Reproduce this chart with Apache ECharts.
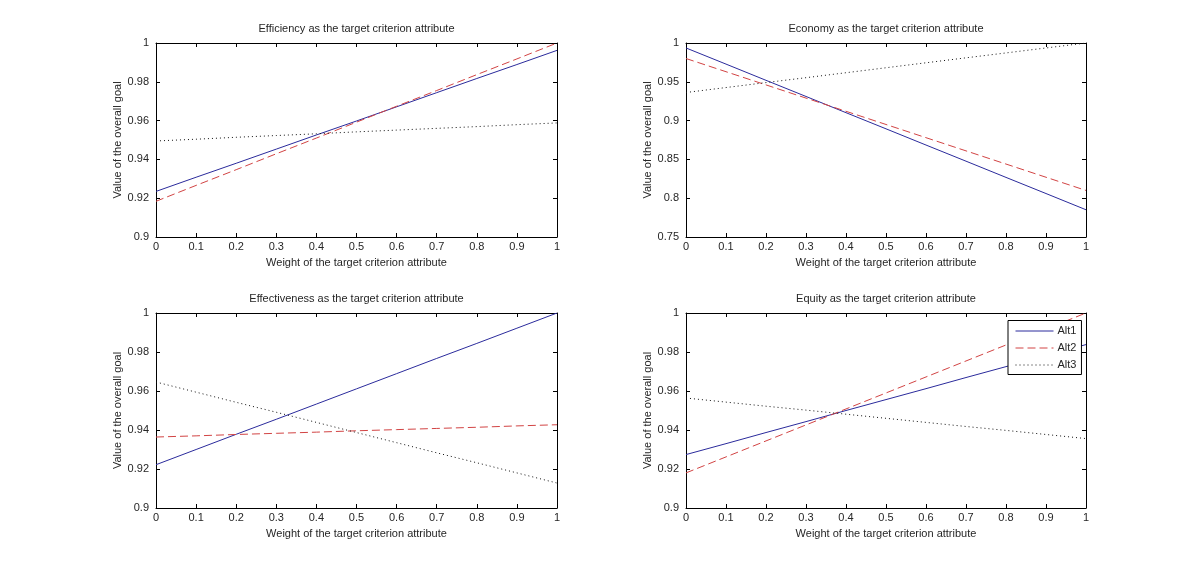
<!DOCTYPE html>
<html><head><meta charset="utf-8">
<script src="https://cdn.jsdelivr.net/npm/echarts@6/dist/echarts.min.js"></script>
<style>html,body{margin:0;padding:0;background:#fff}#c{width:1200px;height:572px}</style>
</head><body><div id="c"></div>
<script>
const weights = [0, 0.1, 0.2, 0.3, 0.4, 0.5, 0.6, 0.7, 0.8, 0.9, 1];
const titles = ['Efficiency as the target criterion attribute','Economy as the target criterion attribute','Effectiveness as the target criterion attribute','Equity as the target criterion attribute'];
const seriesNames = ['Alt1','Alt2','Alt3'];
const xLabel = 'Weight of the target criterion attribute';
const yLabel = 'Value of the overall goal';

const efficiencyAlt1 = [0.9235,0.9308,0.9380,0.9453,0.9526,0.9598,0.9671,0.9744,0.9817,0.9889,0.9962];
const efficiencyAlt2 = [0.9184,0.9266,0.9347,0.9429,0.9510,0.9592,0.9674,0.9755,0.9837,0.9918,1.0];
const efficiencyAlt3 = [0.9495,0.9504,0.9514,0.9523,0.9532,0.9542,0.9551,0.9560,0.9569,0.9579,0.9588];

const economyAlt1 = [0.9936,0.9728,0.9519,0.9311,0.9102,0.8894,0.8685,0.8477,0.8268,0.8060,0.7851];
const economyAlt2 = [0.980,0.963,0.946,0.929,0.912,0.895,0.878,0.861,0.844,0.827,0.810];
const economyAlt3 = [0.9362,0.9426,0.9490,0.9553,0.9617,0.9681,0.9745,0.9809,0.9872,0.9936,1.0];

const effectivenessAlt1 = [0.9222,0.9300,0.9378,0.9455,0.9533,0.9611,0.9689,0.9767,0.9844,0.9922,1.0];
const effectivenessAlt2 = [0.9364,0.9370,0.9377,0.9383,0.9389,0.9396,0.9402,0.9408,0.9414,0.9421,0.9427];
const effectivenessAlt3 = [0.9646,0.9594,0.9542,0.9491,0.9439,0.9387,0.9335,0.9283,0.9232,0.9180,0.9128];

const equityAlt1 = [0.9274,0.9330,0.9387,0.9443,0.9500,0.9556,0.9612,0.9669,0.9725,0.9782,0.9838];
const equityAlt2 = [0.9180,0.9262,0.9344,0.9426,0.9508,0.9590,0.9672,0.9754,0.9836,0.9918,1.0];
const equityAlt3 = [0.9564,0.9543,0.9522,0.9502,0.9481,0.9460,0.9439,0.9418,0.9398,0.9377,0.9356];

const yRanges = [[0.9,1,0.02],[0.75,1,0.05],[0.9,1,0.02],[0.9,1,0.02]];
const panelData = [
  [efficiencyAlt1, efficiencyAlt2, efficiencyAlt3],
  [economyAlt1, economyAlt2, economyAlt3],
  [effectivenessAlt1, effectivenessAlt2, effectivenessAlt3],
  [equityAlt1, equityAlt2, equityAlt3]
];

const grids = [
  {left:156, top:43, width:401, height:194},
  {left:686, top:43, width:400, height:194},
  {left:156, top:313, width:401, height:195},
  {left:686, top:313, width:400, height:195}
];
const txt = '#262626';
const font = 'Liberation Sans, Arial, sans-serif';
const lineStyles = [
  {color:'#2b2b9c', width:1, type:'solid'},
  {color:'#d24444', width:1, type:[8,4]},
  {color:'#111', width:1, type:[1,3]}
];
const fmt = v => String(+v.toFixed(4));

const option = {
  animation:false,
  backgroundColor:'#fff',
  title: titles.map((t,i)=>({
    text:t, left: grids[i].left + grids[i].width/2, top: grids[i].top - 20,
    textAlign:'center', padding:0,
    textStyle:{fontSize:11, fontWeight:'normal', color:txt, fontFamily:font}
  })),
  grid: grids.map(g=>Object.assign({containLabel:false}, g)),
  xAxis: [],
  yAxis: [],
  series: [],
  legend: {
    show:true, orient:'vertical', left:1008, top:320.5,
    data: seriesNames,
    backgroundColor:'#fff', borderColor:'#000', borderWidth:1,
    padding:[5,5,4,7], itemGap:6, itemWidth:38, itemHeight:10,
    itemStyle:{opacity:0}, lineStyle:{width:1},
    textStyle:{fontSize:11, color:txt, fontFamily:font, padding:[0,0,0,-1]},
    selectedMode:false
  }
};

grids.forEach((g,i)=>{
  const axLine = {show:true, onZero:false, lineStyle:{color:'#000', width:1}};
  const tick = {show:true, inside:true, length:4, lineStyle:{color:'#000'}};
  option.xAxis.push({
    type:'value', gridIndex:i, min:0, max:1, interval:0.1, position:'bottom',
    axisLine:axLine, axisTick:tick, splitLine:{show:false},
    axisLabel:{fontSize:11, color:txt, fontFamily:font, margin:4, formatter:fmt},
    name:xLabel, nameLocation:'middle', nameGap:20,
    nameTextStyle:{fontSize:11, color:txt, fontFamily:font}
  });
  option.xAxis.push({
    type:'value', gridIndex:i, min:0, max:1, interval:0.1, position:'top',
    axisLine:axLine, axisTick:tick, splitLine:{show:false}, axisLabel:{show:false}
  });
  const [mn,mx,iv] = yRanges[i];
  option.yAxis.push({
    type:'value', gridIndex:i, min:mn, max:mx, interval:iv, position:'left',
    axisLine:axLine, axisTick:tick, splitLine:{show:false},
    axisLabel:{fontSize:11, color:txt, fontFamily:font, margin:7, formatter:fmt},
    name:yLabel, nameLocation:'middle', nameGap:33,
    nameTextStyle:{fontSize:11, color:txt, fontFamily:font}
  });
  option.yAxis.push({
    type:'value', gridIndex:i, min:mn, max:mx, interval:iv, position:'right',
    axisLine:axLine, axisTick:tick, splitLine:{show:false}, axisLabel:{show:false}
  });
  panelData[i].forEach((vals,k)=>{
    option.series.push({
      type:'line', name:seriesNames[k], xAxisIndex:2*i, yAxisIndex:2*i,
      data: weights.map((w,j)=>[w, vals[j]]),
      showSymbol:false, symbol:'none', lineStyle:lineStyles[k],
      itemStyle:{color:lineStyles[k].color}, silent:true, clip:true, z:3
    });
  });
});

const chart = echarts.init(document.getElementById('c'), null, {renderer:'canvas'});
chart.setOption(option);
</script>
</body></html>
